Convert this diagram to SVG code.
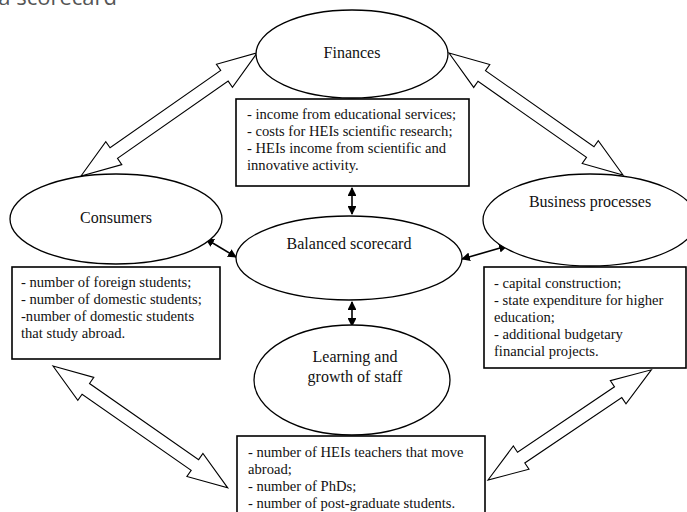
<svg xmlns="http://www.w3.org/2000/svg" width="687" height="512" viewBox="0 0 687 512">
<style>
  .bg { fill: #ffffff; }
  .shape { fill: #ffffff; stroke: #000000; stroke-width: 1.3; }
  .box { fill: #ffffff; stroke: #000000; stroke-width: 1.6; }
  .label { font-family: "Liberation Serif", "Times New Roman", serif; font-size: 16px; fill: #111111; }
  .item { font-family: "Liberation Serif", "Times New Roman", serif; font-size: 14.6px; fill: #111111; }
  .big { fill: #ffffff; stroke: #000000; stroke-width: 1.1; stroke-linejoin: miter; }
  .small { stroke: #000000; stroke-width: 1.6; fill: none; marker-start: url(#ah); marker-end: url(#ah); }
  .caption { font-family: "Open Sans", "Noto Sans", sans-serif; font-size: 22px; fill: #555555; }
</style>
<defs>
  <marker id="ah" viewBox="0 0 10 10" refX="9" refY="5" markerWidth="5.5" markerHeight="5.5" orient="auto-start-reverse">
    <path d="M0,0 L10,5 L0,10 Z" fill="#000000"/>
  </marker>
</defs>
<rect class="bg" x="0" y="0" width="687" height="512"/>
<text class="caption" x="117" y="5" text-anchor="end">a scorecard</text>

<g id="connectors">
  <polygon class="big" transform="translate(81,176) rotate(-34.95)" points="0,0 40,-14 40,-6.5 175,-6.5 175,-14 215,0 175,14 175,6.5 40,6.5 40,14"/>
  <polygon class="big" transform="translate(449,53) rotate(35.04)" points="0,0 40,-14 40,-6.5 172.5,-6.5 172.5,-14 212.5,0 172.5,14 172.5,6.5 40,6.5 40,14"/>
  <polygon class="big" transform="translate(53,366) rotate(34.89)" points="0,0 40,-14 40,-6.5 173,-6.5 173,-14 213,0 173,14 173,6.5 40,6.5 40,14"/>
  <polygon class="big" transform="translate(488,480) rotate(-34.0)" points="0,0 40,-14 40,-6.5 157,-6.5 157,-14 197,0 157,14 157,6.5 40,6.5 40,14"/>
  <line class="small" x1="352" y1="188" x2="352" y2="214"/>
  <line class="small" x1="352" y1="302" x2="352" y2="326"/>
  <line class="small" x1="206" y1="239" x2="236" y2="257"/>
  <line class="small" x1="462" y1="259" x2="507" y2="246"/>
</g>

<g id="finances">
  <ellipse class="shape" cx="352" cy="54" rx="96" ry="44"/>
  <text class="label" x="352" y="58" text-anchor="middle">Finances</text>
</g>
<g id="finances-box">
  <rect class="box" x="236" y="99" width="233" height="87"/>
  <text class="item" x="247" y="119">- income from educational services;</text>
  <text class="item" x="247" y="136">- costs for HEIs scientific research;</text>
  <text class="item" x="247" y="153">- HEIs income from scientific and</text>
  <text class="item" x="247" y="170">innovative activity.</text>
</g>

<g id="consumers">
  <ellipse class="shape" cx="116" cy="219" rx="106" ry="45"/>
  <text class="label" x="116" y="223" text-anchor="middle">Consumers</text>
</g>
<g id="consumers-box">
  <rect class="box" x="12" y="267" width="208" height="92"/>
  <text class="item" x="21" y="287">- number of foreign students;</text>
  <text class="item" x="21" y="304">- number of domestic students;</text>
  <text class="item" x="21" y="321">-number of domestic students</text>
  <text class="item" x="21" y="338">that study abroad.</text>
</g>

<g id="business">
  <ellipse class="shape" cx="590" cy="220" rx="107" ry="46"/>
  <text class="label" x="590" y="207" text-anchor="middle">Business processes</text>
</g>
<g id="business-box">
  <rect class="box" x="484" y="267" width="202" height="101"/>
  <text class="item" x="494" y="288">- capital construction;</text>
  <text class="item" x="494" y="305">- state expenditure for higher</text>
  <text class="item" x="494" y="322">education;</text>
  <text class="item" x="494" y="339">-  additional budgetary</text>
  <text class="item" x="494" y="356">financial projects.</text>
</g>

<g id="balanced">
  <ellipse class="shape" cx="349" cy="258" rx="113" ry="42"/>
  <text class="label" x="349" y="249" text-anchor="middle">Balanced scorecard</text>
</g>

<g id="learning">
  <ellipse class="shape" cx="352" cy="380" rx="98" ry="55"/>
  <text class="label" x="355" y="362" text-anchor="middle">Learning and</text>
  <text class="label" x="355" y="382" text-anchor="middle">growth of staff</text>
</g>
<g id="learning-box">
  <rect class="box" x="237" y="436" width="248" height="90"/>
  <text class="item" x="248" y="457">- number of HEIs teachers that move</text>
  <text class="item" x="248" y="474">abroad;</text>
  <text class="item" x="248" y="491">- number of PhDs;</text>
  <text class="item" x="248" y="508">- number of post-graduate students.</text>
</g>
</svg>
